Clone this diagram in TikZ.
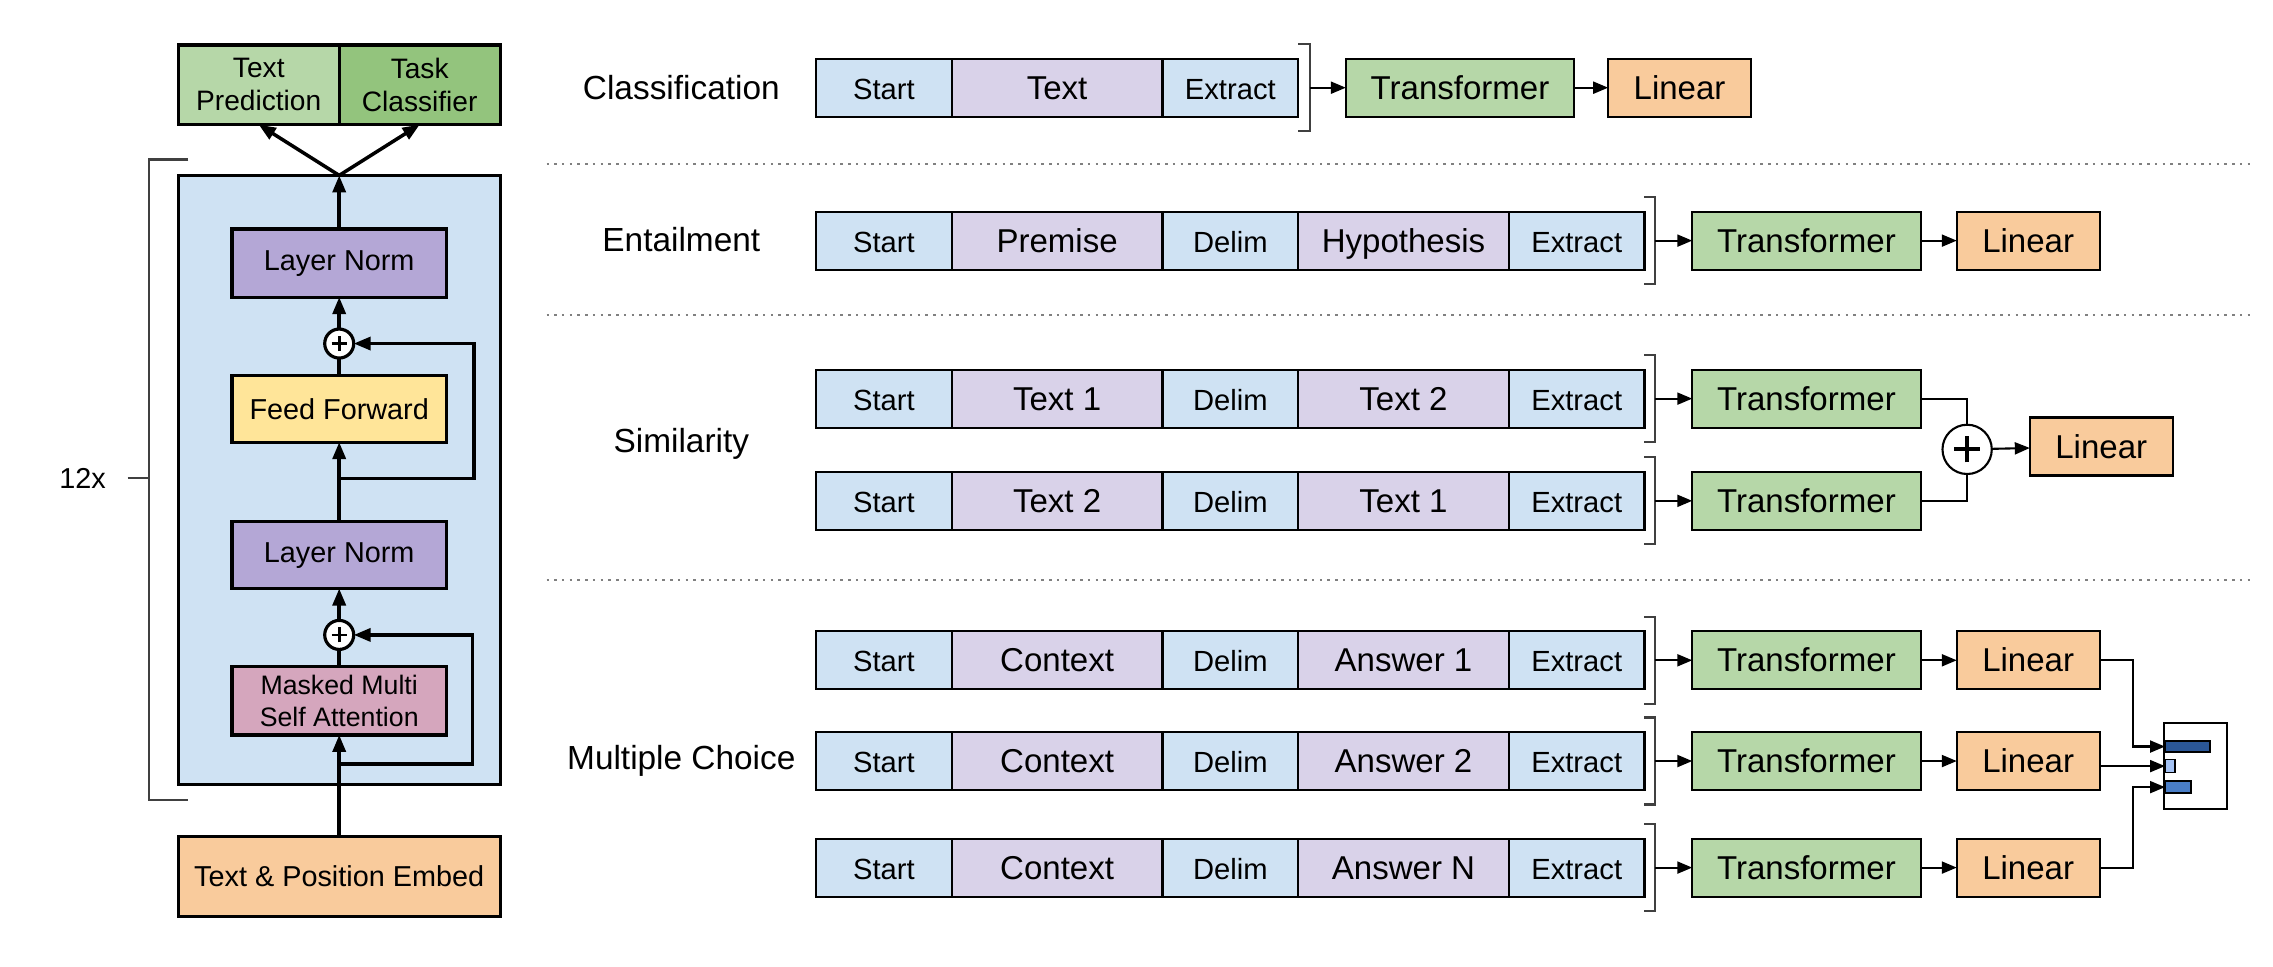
\documentclass[tikz,border=0pt]{standalone}
\usepackage{fontspec}
\setmainfont{Liberation Sans}
\usetikzlibrary{arrows.meta,positioning}

\definecolor{tokblue}{HTML}{CFE2F3}
\definecolor{tokpurple}{HTML}{D9D2E9}
\definecolor{lnpurple}{HTML}{B4A7D6}
\definecolor{ffyellow}{HTML}{FFE599}
\definecolor{msapink}{HTML}{D5A6BD}
\definecolor{embedorange}{HTML}{F9CB9C}
\definecolor{trgreen}{HTML}{B6D7A8}
\definecolor{clsgreen}{HTML}{93C47D}
\definecolor{bardark}{HTML}{2B5797}
\definecolor{barlight}{HTML}{A4C2F4}
\definecolor{barmid}{HTML}{4A7EC7}

\begin{document}
\begin{tikzpicture}[
    x=0.014496cm, y=-0.014496cm,
    >={Triangle[length=1.7mm,width=1.3mm]},
    blk/.style={rectangle,draw,line width=0.9pt,inner sep=0pt,outer sep=0pt,align=center,font=\fontsize{8.2}{9.6}\selectfont},
    plusnode/.style={circle,draw,line width=0.9pt,fill=white,minimum size=0.29cm,inner sep=0pt,outer sep=0pt,
        path picture={\draw[line width=0.8pt] ([xshift=-0.75mm]path picture bounding box.center) -- ([xshift=0.75mm]path picture bounding box.center)
            ([yshift=-0.75mm]path picture bounding box.center) -- ([yshift=0.75mm]path picture bounding box.center);}},
    tok/.style={rectangle,draw,line width=0.6pt,inner sep=0pt,outer sep=0pt,minimum height=0.58cm,
        text height=0.72em,text depth=0.06em,font=\fontsize{8.3}{10}\selectfont},
    special/.style={tok,fill=tokblue,minimum width=1.355cm},
    seg/.style={tok,fill=tokpurple,minimum width=2.109cm,font=\fontsize{9.4}{11}\selectfont},
    trbox/.style={tok,fill=trgreen,minimum width=2.283cm,font=\fontsize{9.4}{11}\selectfont},
    linbox/.style={tok,fill=embedorange,minimum width=1.428cm,font=\fontsize{9.4}{11}\selectfont},
    task/.style={font=\fontsize{9.5}{11}\selectfont},
    arrow/.style={->,line width=1pt},
    link/.style={->,line width=0.6pt,>={Triangle[length=1.5mm,width=1.2mm]}},
    brk/.style={line width=0.6pt,black!75},
    sep/.style={gray,line width=0.6pt,dash pattern=on 0.7pt off 1.5pt}
]
\useasboundingbox (0,0) rectangle (1568,667);

% Output heads
\node[blk,fill=trgreen,minimum width=1.609cm,minimum height=0.797cm,font=\fontsize{8}{9.4}\selectfont] (textpred) at (178.5,58.5) {Text\\Prediction};
\node[blk,fill=clsgreen,minimum width=1.609cm,minimum height=0.797cm,font=\fontsize{8}{9.4}\selectfont,right=0pt of textpred] (taskcls) {Task\\Classifier};

% Transformer block
\node[blk,fill=tokblue,minimum width=3.218cm,minimum height=6.088cm] (stack) at (234,331) {};
\node[blk,fill=lnpurple,minimum width=2.145cm,minimum height=0.681cm] (ln1) at (234,181.5) {Layer Norm};
\node[plusnode] (plus1) at (234,237) {};
\node[blk,fill=ffyellow,minimum width=2.145cm,minimum height=0.667cm] (ff) at (234,282) {Feed Forward};
\node[blk,fill=lnpurple,minimum width=2.145cm,minimum height=0.667cm] (ln2) at (234,383) {Layer Norm};
\node[plusnode] (plus2) at (234,438) {};
\node[blk,fill=msapink,minimum width=2.145cm,minimum height=0.681cm,font=\fontsize{7.6}{9}\selectfont] (msa) at (234,483.5) {Masked Multi\\Self Attention};

% Input embedding
\node[blk,fill=embedorange,minimum width=3.218cm,minimum height=0.797cm] (embed) at (234,604.5) {Text \& Position Embed};

% Repeat bracket
\node[font=\fontsize{8.2}{10}\selectfont] (twelve) at (57,330) {12x};
\draw[brk] (88,330) -- (103,330);
\draw[brk] (130,110) -- (103,110) -- (103,552) -- (130,552);

% Block connections
\coordinate (res1) at (234,330);
\coordinate (res2) at (234,527);
\draw[arrow] (embed) -- (msa);
\draw[line width=1pt] (msa) -- (plus2);
\draw[arrow] (plus2) -- (ln2);
\draw[arrow] (ln2) -- (ff);
\draw[line width=1pt] (ff) -- (plus1);
\draw[arrow] (plus1) -- (ln1);
\draw[arrow] (ln1) -- (stack.north);
\draw[arrow] (stack.north) -- (textpred.south);
\draw[arrow] (stack.north) -- (taskcls.south);
\draw[arrow] (res1) -- ++(93,0) |- (plus1);
\draw[arrow] (res2) -- ++(92,0) |- (plus2);

% Task separators
\draw[sep] (377,113) -- (1552,113);
\draw[sep] (377,217) -- (1552,217);
\draw[sep] (377,400) -- (1552,400);

% Classification
\node[task] (cls) at (470,60.5) {Classification};
\node[special,anchor=west] (clsstart) at (563,60.5) {Start};
\node[seg,right=0pt of clsstart] (clstext) {Text};
\node[special,right=0pt of clstext] (clsextract) {Extract};
\coordinate[right=0.116cm of clsextract] (clsbr);
\draw[brk] ([yshift=0.435cm]clsextract.east) -| ([yshift=-0.435cm]clsbr) -- ([yshift=-0.435cm]clsextract.east);
\node[trbox,right=0.362cm of clsbr] (clstrans) {Transformer};
\node[linbox,right=0.34cm of clstrans] (clslin) {Linear};
\draw[link] (clsbr) -- (clstrans);
\draw[link] (clstrans) -- (clslin);

% Entailment
\node[task] (ent) at (470,165) {Entailment};
\node[special,anchor=west] (entstart) at (563,166) {Start};
\node[seg,right=0pt of entstart] (entpremise) {Premise};
\node[special,right=0pt of entpremise] (entdelim) {Delim};
\node[seg,right=0pt of entdelim] (enthyp) {Hypothesis};
\node[special,right=0pt of enthyp] (entextract) {Extract};
\coordinate[right=0.101cm of entextract] (entbr);
\draw[brk] ([yshift=0.435cm]entextract.east) -| ([yshift=-0.435cm]entbr) -- ([yshift=-0.435cm]entextract.east);
\node[trbox,right=0.377cm of entbr] (enttrans) {Transformer};
\node[linbox,right=0.362cm of enttrans] (entlin) {Linear};
\draw[link] (entbr) -- (enttrans);
\draw[link] (enttrans) -- (entlin);

% Similarity
\node[task] (sim) at (470,306) {Similarity};
\node[special,anchor=west] (s1start) at (563,275) {Start};
\node[seg,right=0pt of s1start] (s1text1) {Text 1};
\node[special,right=0pt of s1text1] (s1delim) {Delim};
\node[seg,right=0pt of s1delim] (s1text2) {Text 2};
\node[special,right=0pt of s1text2] (s1extract) {Extract};
\coordinate[right=0.101cm of s1extract] (s1br);
\draw[brk] ([yshift=0.435cm]s1extract.east) -| ([yshift=-0.435cm]s1br) -- ([yshift=-0.435cm]s1extract.east);
\node[trbox,right=0.377cm of s1br] (s1trans) {Transformer};
\draw[link] (s1br) -- (s1trans);

\node[special,anchor=west] (s2start) at (563,345.5) {Start};
\node[seg,right=0pt of s2start] (s2text2) {Text 2};
\node[special,right=0pt of s2text2] (s2delim) {Delim};
\node[seg,right=0pt of s2delim] (s2text1) {Text 1};
\node[special,right=0pt of s2text1] (s2extract) {Extract};
\coordinate[right=0.101cm of s2extract] (s2br);
\draw[brk] ([yshift=0.435cm]s2extract.east) -| ([yshift=-0.435cm]s2br) -- ([yshift=-0.435cm]s2extract.east);
\node[trbox,right=0.377cm of s2br] (s2trans) {Transformer};
\draw[link] (s2br) -- (s2trans);

\node[plusnode,minimum size=0.493cm,line width=0.6pt,
    path picture={\draw[line width=1.1pt] ([xshift=-1.3mm]path picture bounding box.center) -- ([xshift=1.3mm]path picture bounding box.center)
        ([yshift=-1.3mm]path picture bounding box.center) -- ([yshift=1.3mm]path picture bounding box.center);}] (simplus) at (1357,310) {};
\node[linbox] (simlin) at (1449.5,308) {Linear};
\draw[line width=0.6pt] (s1trans.east) -| (simplus.north);
\draw[line width=0.6pt] (s2trans.east) -| (simplus.south);
\draw[link] (simplus) -- (simlin);

% Multiple choice
\node[task] (mc) at (470,525) {Multiple Choice};

\node[special,anchor=west] (m1start) at (563,455.5) {Start};
\node[seg,right=0pt of m1start] (m1context) {Context};
\node[special,right=0pt of m1context] (m1delim) {Delim};
\node[seg,right=0pt of m1delim] (m1answer) {Answer 1};
\node[special,right=0pt of m1answer] (m1extract) {Extract};
\coordinate[right=0.101cm of m1extract] (m1br);
\draw[brk] ([yshift=0.435cm]m1extract.east) -| ([yshift=-0.435cm]m1br) -- ([yshift=-0.435cm]m1extract.east);
\node[trbox,right=0.377cm of m1br] (m1trans) {Transformer};
\node[linbox,right=0.362cm of m1trans] (m1lin) {Linear};
\draw[link] (m1br) -- (m1trans);
\draw[link] (m1trans) -- (m1lin);

\node[special,anchor=west] (m2start) at (563,525) {Start};
\node[seg,right=0pt of m2start] (m2context) {Context};
\node[special,right=0pt of m2context] (m2delim) {Delim};
\node[seg,right=0pt of m2delim] (m2answer) {Answer 2};
\node[special,right=0pt of m2answer] (m2extract) {Extract};
\coordinate[right=0.101cm of m2extract] (m2br);
\draw[brk] ([yshift=0.435cm]m2extract.east) -| ([yshift=-0.435cm]m2br) -- ([yshift=-0.435cm]m2extract.east);
\node[trbox,right=0.377cm of m2br] (m2trans) {Transformer};
\node[linbox,right=0.362cm of m2trans] (m2lin) {Linear};
\draw[link] (m2br) -- (m2trans);
\draw[link] (m2trans) -- (m2lin);

\node[special,anchor=west] (m3start) at (563,598.5) {Start};
\node[seg,right=0pt of m3start] (m3context) {Context};
\node[special,right=0pt of m3context] (m3delim) {Delim};
\node[seg,right=0pt of m3delim] (m3answer) {Answer N};
\node[special,right=0pt of m3answer] (m3extract) {Extract};
\coordinate[right=0.101cm of m3extract] (m3br);
\draw[brk] ([yshift=0.435cm]m3extract.east) -| ([yshift=-0.435cm]m3br) -- ([yshift=-0.435cm]m3extract.east);
\node[trbox,right=0.377cm of m3br] (m3trans) {Transformer};
\node[linbox,right=0.362cm of m3trans] (m3lin) {Linear};
\draw[link] (m3br) -- (m3trans);
\draw[link] (m3trans) -- (m3lin);

% Answer scores
\node[draw,line width=0.6pt,minimum width=0.623cm,minimum height=0.855cm,inner sep=0pt,outer sep=0pt] (chart) at (1514.5,528.5) {};
\node[draw,line width=0.5pt,fill=bardark,minimum width=0.449cm,minimum height=0.116cm,inner sep=0pt,outer sep=0pt,anchor=west] (bar1) at (1493.5,515) {};
\node[draw,line width=0.5pt,fill=barlight,minimum width=0.101cm,minimum height=0.13cm,inner sep=0pt,outer sep=0pt,anchor=west] (bar2) at (1493.5,528.5) {};
\node[draw,line width=0.5pt,fill=barmid,minimum width=0.261cm,minimum height=0.116cm,inner sep=0pt,outer sep=0pt,anchor=west] (bar3) at (1493.5,543) {};
\draw[link] (m1lin.east) -- ++(23,0) |- (bar1.west);
\draw[link] (m2lin.east |- bar2.west) -- (bar2.west);
\draw[link] (m3lin.east) -- ++(23,0) |- (bar3.west);

\end{tikzpicture}
\end{document}
